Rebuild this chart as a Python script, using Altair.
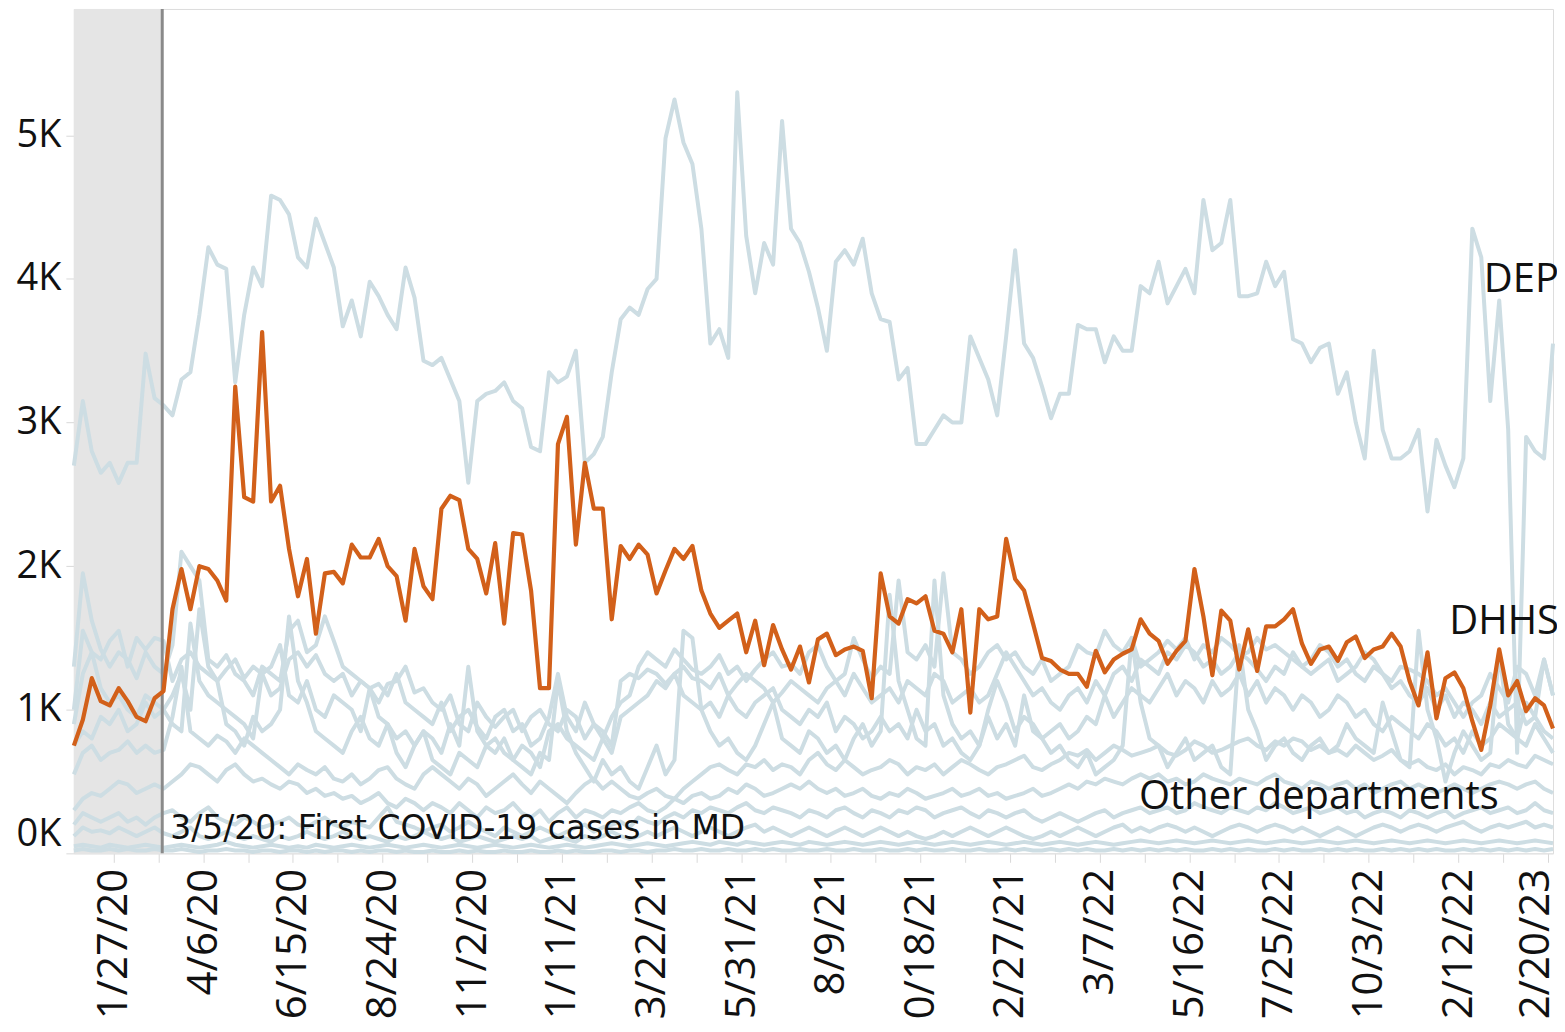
import altair as alt
import pandas as pd

# ---------------- data ----------------
START = "2019-12-27"
N_WEEKS = 166
COVID_DATE = "2020-03-05"

TICK_LABELS = ["1/27/20", "4/6/20", "6/15/20", "8/24/20", "11/2/20", "1/11/21",
               "3/22/21", "5/31/21", "8/9/21", "10/18/21", "12/27/21", "3/7/22",
               "5/16/22", "7/25/22", "10/3/22", "12/12/22", "2/20/23"]
TICK_START = "2020-01-27"
N_TICKS = 33  # every 5 weeks, labels on every other one

Y_TICKS = [0, 1, 2, 3, 4, 5]
Y_MAX = 5.88

# values in thousands (K)
DEP = [
    2.70, 3.15, 2.80, 2.65, 2.72, 2.58, 2.72, 2.72, 3.48, 3.17,
    3.12, 3.05, 3.30, 3.35, 3.75, 4.22, 4.10, 4.07, 3.28, 3.75,
    4.08, 3.95, 4.58, 4.55, 4.45, 4.15, 4.08, 4.42, 4.25, 4.08,
    3.67, 3.85, 3.60, 3.98, 3.88, 3.75, 3.65, 4.08, 3.87, 3.43,
    3.40, 3.45, 3.30, 3.15, 2.58, 3.15, 3.20, 3.22, 3.28, 3.15,
    3.10, 2.83, 2.80, 3.35, 3.28, 3.32, 3.50, 2.72, 2.78, 2.90,
    3.35, 3.72, 3.80, 3.75, 3.93, 4.00, 4.98, 5.25, 4.95, 4.80,
    4.35, 3.55, 3.65, 3.45, 5.30, 4.30, 3.90, 4.25, 4.10, 5.10,
    4.35, 4.25, 4.05, 3.80, 3.50, 4.12, 4.20, 4.10, 4.28, 3.90,
    3.72, 3.70, 3.30, 3.38, 2.85, 2.85, 2.95, 3.05, 3.00, 3.00,
    3.60, 3.45, 3.30, 3.05, 3.60, 4.20, 3.55, 3.45, 3.25, 3.03,
    3.20, 3.20, 3.68, 3.65, 3.65, 3.42, 3.60, 3.50, 3.50, 3.95,
    3.90, 4.12, 3.83, 3.95, 4.07, 3.90, 4.55, 4.20, 4.25, 4.55,
    3.88, 3.88, 3.90, 4.12, 3.95, 4.05, 3.58, 3.55, 3.42, 3.52,
    3.55, 3.20, 3.35, 3.00, 2.75, 3.50, 2.95, 2.75, 2.75, 2.80,
    2.95, 2.38, 2.88, 2.70, 2.55, 2.75, 4.35, 4.15, 3.15, 3.85,
    2.95, 0.70, 2.90, 2.80, 2.75, 3.55,
]

DHHS = [
    0.75, 0.93, 1.22, 1.06, 1.03, 1.15, 1.06, 0.95, 0.92, 1.08,
    1.13, 1.70, 1.98, 1.70, 2.00, 1.98, 1.90, 1.76, 3.25, 2.48,
    2.45, 3.63, 2.45, 2.56, 2.12, 1.79, 2.05, 1.53, 1.95, 1.96,
    1.88, 2.15, 2.06, 2.06, 2.19, 2.00, 1.93, 1.62, 2.12, 1.86,
    1.77, 2.40, 2.49, 2.46, 2.12, 2.05, 1.81, 2.16, 1.60, 2.23,
    2.22, 1.83, 1.15, 1.15, 2.85, 3.04, 2.15, 2.72, 2.40, 2.40,
    1.63, 2.14, 2.05, 2.15, 2.08, 1.81, 1.97, 2.12, 2.05, 2.14,
    1.83, 1.67, 1.57, 1.62, 1.67, 1.40, 1.62, 1.31, 1.59, 1.42,
    1.28, 1.44, 1.19, 1.49, 1.53, 1.38, 1.42, 1.44, 1.41, 1.08,
    1.95, 1.65, 1.60, 1.77, 1.74, 1.79, 1.55, 1.53, 1.40, 1.70,
    0.98, 1.70, 1.63, 1.65, 2.19, 1.91, 1.83, 1.60, 1.36, 1.34,
    1.28, 1.25, 1.25, 1.16, 1.41, 1.26, 1.35, 1.39, 1.42, 1.63,
    1.53, 1.48, 1.32, 1.41, 1.48, 1.98, 1.65, 1.24, 1.69, 1.62,
    1.28, 1.56, 1.27, 1.58, 1.58, 1.63, 1.70, 1.46, 1.32, 1.42,
    1.44, 1.34, 1.47, 1.51, 1.36, 1.42, 1.44, 1.53, 1.44, 1.20,
    1.03, 1.40, 0.94, 1.22, 1.26, 1.15, 0.92, 0.72, 1.03, 1.42,
    1.10, 1.20, 0.99, 1.08, 1.03, 0.87,
]

OTHER_1 = [
    1.30, 1.95, 1.62, 1.42, 1.30, 1.40, 1.35, 1.22, 1.40, 1.30,
    1.25, 1.45, 2.10, 2.00, 1.90, 1.35, 1.30, 1.38, 1.25, 1.20,
    1.10, 1.30, 1.25, 1.20, 1.55, 1.62, 1.40, 1.45, 1.65, 1.48,
    1.30, 1.25, 1.20, 1.15, 1.18, 1.10, 1.25, 1.05, 1.00, 0.95,
    0.90, 1.05, 0.85, 0.95, 1.00, 0.88, 0.80, 0.95, 1.00, 0.85,
    0.90, 0.75, 0.80, 0.95, 1.25, 0.95, 0.85, 1.05, 0.90, 0.80,
    0.95, 1.05, 1.10, 1.30, 1.40, 1.35, 1.30, 1.42, 1.35, 1.28,
    1.25, 1.30, 1.38, 1.25, 1.30, 1.20, 1.28, 1.35, 1.40, 1.30,
    1.32, 1.25, 1.40, 1.45, 1.30, 1.20, 1.25, 1.50, 1.35, 1.22,
    1.30, 1.25, 1.90, 1.40, 1.35, 1.45, 1.30, 1.95, 1.40, 1.35,
    1.25, 1.30, 1.40, 1.45, 1.35, 1.40, 1.30, 1.25, 1.35, 1.20,
    1.25, 1.30, 1.45, 1.40, 1.38, 1.55, 1.45, 1.40, 1.50, 1.30,
    1.35, 1.40, 1.48, 1.42, 1.50, 1.35, 1.45, 1.40, 1.50, 1.45,
    1.38, 1.40, 1.50, 1.42, 1.45, 1.40, 1.35, 1.30, 1.25, 1.30,
    1.35, 1.20, 1.25, 1.30, 1.40, 1.35, 1.25, 1.20, 1.30, 1.28,
    1.25, 1.20, 1.10, 1.15, 1.05, 0.95, 1.05, 1.10, 1.25, 1.15,
    1.05, 1.30, 1.25, 1.10, 1.35, 1.10,
]

OTHER_2 = [
    1.00, 1.55, 1.40, 1.35, 1.48, 1.55, 1.30, 1.50, 1.42, 1.50,
    1.48, 1.20, 1.35, 1.40, 1.30, 1.25, 1.20, 1.28, 1.35, 1.22,
    1.30, 1.25, 1.10, 1.15, 1.35, 1.40, 1.30, 1.38, 1.25, 1.20,
    1.25, 1.10, 1.20, 1.15, 1.05, 1.18, 1.20, 1.30, 1.12, 1.15,
    1.05, 1.00, 1.10, 0.90, 0.85, 1.05, 0.95, 0.88, 0.95, 1.00,
    0.85, 0.95, 1.00, 0.90, 0.85, 1.00, 0.95, 0.80, 0.90, 0.85,
    0.75, 1.20, 1.25, 1.22, 1.28, 1.25, 1.18, 1.25, 1.30, 1.22,
    1.20, 1.15, 1.25, 1.10, 1.18, 1.25, 1.20, 1.15, 1.05, 1.12,
    1.20, 1.15, 1.10, 1.05, 1.15, 1.20, 1.10, 1.25, 1.15, 1.05,
    1.10, 1.15, 1.05, 1.20, 1.15, 1.10, 1.25, 1.20, 1.05, 1.10,
    1.15, 1.05, 1.10, 1.25, 1.40, 1.30, 1.20, 1.10, 1.15, 1.05,
    1.00, 1.10, 1.15, 1.05, 1.20, 1.10, 1.25, 1.30, 1.20, 1.35,
    1.30, 1.25, 1.40, 1.35, 1.45, 1.40, 1.30, 1.35, 1.25, 1.30,
    1.40, 1.35, 1.28, 1.20, 1.30, 1.25, 1.40, 1.30, 1.35, 1.45,
    1.40, 1.30, 1.35, 1.25, 1.20, 1.30, 1.25, 1.15, 1.20, 1.10,
    1.05, 1.15, 1.00, 1.10, 0.95, 1.05, 1.00, 0.90, 1.05, 0.95,
    1.00, 1.05, 0.90, 0.95, 0.85, 0.80,
]

OTHER_3 = [
    0.90, 1.25, 1.40, 1.15, 1.05, 1.10, 1.00, 0.95, 1.10, 1.05,
    1.00, 0.90, 0.85, 1.60, 1.20, 1.10, 1.05, 1.00, 0.95, 0.90,
    0.80, 1.25, 1.30, 1.45, 1.10, 1.05, 1.20, 1.00, 0.95, 1.10,
    1.05, 1.00, 0.85, 1.15, 0.95, 0.90, 0.80, 0.85, 0.75, 0.85,
    0.80, 0.70, 0.90, 0.75, 1.30, 0.85, 0.75, 0.70, 0.80, 0.65,
    0.75, 0.70, 0.60, 0.85, 0.90, 0.80, 0.75, 0.70, 0.65, 0.80,
    0.70, 0.95, 1.00, 1.05, 1.10, 1.20, 1.15, 1.25, 1.10, 1.05,
    1.00, 1.05, 0.95, 1.10, 1.00, 0.95, 1.05, 1.10, 1.15, 1.00,
    0.95, 0.90, 1.00, 0.95, 1.05, 0.85, 0.95, 0.90, 0.80, 0.85,
    0.95, 0.85, 0.90, 0.80, 1.00, 0.85, 0.90, 0.75, 0.80, 0.70,
    0.65, 0.75, 1.00, 1.20, 1.05, 0.85, 0.95, 0.90, 0.80, 0.85,
    0.90, 0.80, 0.85, 0.95, 0.90, 1.10, 0.95, 1.05, 1.15, 1.10,
    1.05, 1.15, 1.25, 1.10, 1.20, 1.15, 1.05, 1.20, 1.10, 1.15,
    1.25, 1.10, 1.20, 1.05, 1.15, 1.10, 1.00, 1.10, 1.05, 0.95,
    1.00, 1.10, 1.05, 0.95, 1.00, 0.90, 0.85, 0.95, 0.90, 0.85,
    0.80, 0.90, 0.85, 0.75, 0.80, 0.70, 0.85, 0.75, 0.80, 0.90,
    0.85, 0.80, 0.75, 0.90, 0.80, 0.70,
]

OTHER_4 = [
    0.75, 0.85, 0.80, 0.95, 0.90, 1.00, 0.85, 0.90, 1.05, 0.95,
    1.00, 1.10, 1.25, 1.00, 1.70, 1.30, 1.20, 0.90, 0.85, 0.75,
    0.95, 0.85, 0.90, 1.00, 1.65, 1.20, 1.05, 0.85, 0.80, 0.75,
    0.70, 0.85, 0.95, 0.80, 0.75, 0.90, 0.70, 0.60, 0.75, 0.85,
    0.65, 0.60, 0.55, 0.70, 0.65, 0.60, 0.75, 0.80, 0.70, 0.65,
    0.60, 0.55, 0.70, 0.65, 1.20, 0.85, 0.70, 0.60, 0.50, 0.65,
    0.55, 0.60, 0.50, 0.45, 0.60, 0.75, 0.55, 0.65, 1.55, 1.50,
    1.00, 0.85, 0.75, 0.80, 0.70, 0.65, 0.75, 0.90, 1.05, 0.80,
    0.75, 0.70, 0.85, 0.80, 0.70, 0.75, 0.65, 0.80, 0.90, 0.75,
    0.85, 1.80, 1.20, 1.00, 0.80, 0.75, 1.90, 1.10, 0.90, 0.80,
    0.85, 0.75, 0.95, 0.80, 0.90, 0.75, 1.10, 0.85, 0.80, 0.70,
    0.75, 0.65, 0.60, 0.70, 0.55, 0.60, 0.65, 0.75, 1.50, 1.05,
    0.80, 0.75, 0.60, 0.70, 0.80, 0.65, 0.70, 0.75, 0.60, 0.55,
    1.45, 1.00, 0.85, 0.65, 0.75, 0.80, 0.70, 0.65, 0.75, 0.80,
    0.70, 0.75, 0.90, 0.80, 0.75, 0.70, 1.05, 0.85, 0.65, 0.60,
    1.55, 1.00, 0.80, 0.50, 0.70, 0.85, 0.75, 0.65, 0.70, 1.40,
    0.90, 0.80, 1.05, 0.95, 1.35, 1.10,
]

OTHER_5 = [
    0.55, 0.70, 0.75, 0.65, 0.70, 0.72, 0.78, 0.70, 0.75, 0.70,
    0.72, 0.95, 1.30, 0.85, 0.80, 0.75, 0.82, 0.78, 0.70, 0.80,
    0.75, 0.70, 0.65, 0.60, 0.55, 0.62, 0.58, 0.55, 0.60, 0.52,
    0.50, 0.55, 0.48, 0.52, 0.58, 0.60, 0.52, 0.48, 0.45, 0.55,
    0.60, 0.55, 0.50, 0.45, 0.52, 0.48, 0.40, 0.45, 0.50, 0.55,
    0.48, 0.42, 0.50, 0.45, 0.40, 0.35, 0.42, 0.48, 0.52, 0.45,
    0.50, 0.45, 0.40, 0.38, 0.42, 0.45, 0.40, 0.38, 0.45, 0.50,
    0.55, 0.60, 0.62, 0.58, 0.55, 0.62, 0.60, 0.65, 0.58, 0.62,
    0.60, 0.55, 0.65, 0.70, 0.62, 0.58, 0.65, 0.60, 0.55, 0.58,
    0.60, 0.65, 0.62, 0.55, 0.60, 0.58, 0.62, 0.55, 0.60, 0.65,
    0.62, 0.58, 0.55, 0.60, 0.62, 0.65, 0.68, 0.60, 0.58, 0.62,
    0.65, 0.70, 0.68, 0.72, 0.65, 0.70, 0.75, 0.72, 0.68, 0.70,
    0.72, 0.75, 0.70, 0.68, 0.72, 0.78, 0.75, 0.70, 0.72, 0.75,
    0.78, 0.80, 0.75, 0.72, 0.78, 0.75, 0.80, 0.78, 0.72, 0.75,
    0.70, 0.72, 0.68, 0.75, 0.70, 0.65, 0.68, 0.72, 0.65, 0.62,
    0.65, 0.60, 0.58, 0.62, 0.55, 0.60, 0.58, 0.55, 0.62, 0.60,
    0.65, 0.62, 0.60, 0.68, 0.65, 0.62,
]

OTHER_6 = [
    0.30, 0.38, 0.42, 0.40, 0.45, 0.50, 0.48, 0.42, 0.45, 0.48,
    0.45, 0.50, 0.55, 0.62, 0.60, 0.55, 0.50, 0.58, 0.62, 0.55,
    0.50, 0.52, 0.48, 0.45, 0.50, 0.48, 0.42, 0.45, 0.40, 0.42,
    0.38, 0.40, 0.35, 0.38, 0.42, 0.35, 0.32, 0.38, 0.35, 0.30,
    0.35, 0.32, 0.28, 0.35, 0.30, 0.25, 0.32, 0.28, 0.30, 0.35,
    0.28, 0.25, 0.30, 0.22, 0.28, 0.32, 0.25, 0.30, 0.28, 0.25,
    0.30, 0.28, 0.32, 0.35, 0.30, 0.28, 0.32, 0.38, 0.35, 0.40,
    0.42, 0.38, 0.40, 0.45, 0.42, 0.48, 0.45, 0.40, 0.42, 0.45,
    0.48, 0.45, 0.50, 0.45, 0.42, 0.45, 0.40, 0.42, 0.45, 0.40,
    0.38, 0.42, 0.40, 0.45, 0.42, 0.38, 0.40, 0.42, 0.45, 0.40,
    0.42, 0.45, 0.40, 0.42, 0.38, 0.40, 0.42, 0.45, 0.40, 0.42,
    0.45, 0.48, 0.45, 0.50, 0.48, 0.52, 0.50, 0.48, 0.52, 0.55,
    0.52, 0.55, 0.50, 0.52, 0.48, 0.50, 0.55, 0.52, 0.50, 0.48,
    0.52, 0.50, 0.48, 0.52, 0.55, 0.50, 0.48, 0.45, 0.50, 0.48,
    0.45, 0.48, 0.50, 0.45, 0.48, 0.42, 0.45, 0.48, 0.50, 0.45,
    0.48, 0.45, 0.42, 0.45, 0.48, 0.45, 0.42, 0.45, 0.48, 0.50,
    0.48, 0.45, 0.48, 0.50, 0.45, 0.42,
]

OTHER_7 = [
    0.20, 0.28, 0.25, 0.22, 0.25, 0.28, 0.22, 0.25, 0.20, 0.25,
    0.28, 0.30, 0.25, 0.22, 0.28, 0.32, 0.25, 0.22, 0.20, 0.25,
    0.22, 0.18, 0.20, 0.22, 0.25, 0.20, 0.18, 0.22, 0.25, 0.20,
    0.18, 0.22, 0.20, 0.18, 0.25, 0.32, 0.22, 0.20, 0.18, 0.15,
    0.18, 0.20, 0.15, 0.18, 0.22, 0.18, 0.15, 0.12, 0.18, 0.15,
    0.12, 0.15, 0.18, 0.15, 0.12, 0.15, 0.18, 0.20, 0.15, 0.18,
    0.20, 0.22, 0.18, 0.25, 0.22, 0.20, 0.25, 0.28, 0.25, 0.30,
    0.28, 0.32, 0.30, 0.28, 0.32, 0.35, 0.30, 0.28, 0.32, 0.30,
    0.28, 0.25, 0.30, 0.28, 0.25, 0.30, 0.32, 0.28, 0.25, 0.30,
    0.28, 0.25, 0.30, 0.28, 0.32, 0.30, 0.25, 0.28, 0.30, 0.32,
    0.28, 0.25, 0.30, 0.28, 0.25, 0.28, 0.30, 0.25, 0.22, 0.25,
    0.28, 0.25, 0.22, 0.25, 0.28, 0.30, 0.25, 0.28, 0.30, 0.32,
    0.28, 0.30, 0.32, 0.28, 0.30, 0.35, 0.32, 0.30, 0.28, 0.32,
    0.30, 0.28, 0.32, 0.30, 0.35, 0.32, 0.28, 0.30, 0.32, 0.28,
    0.30, 0.32, 0.28, 0.30, 0.25, 0.28, 0.30, 0.28, 0.25, 0.30,
    0.28, 0.25, 0.28, 0.30, 0.25, 0.28, 0.30, 0.32, 0.28, 0.30,
    0.32, 0.28, 0.30, 0.35, 0.30, 0.28,
]

OTHER_8 = [
    0.12, 0.18, 0.15, 0.16, 0.14, 0.18, 0.15, 0.12, 0.15, 0.18,
    0.14, 0.12, 0.15, 0.18, 0.12, 0.10, 0.12, 0.15, 0.12, 0.10,
    0.12, 0.10, 0.08, 0.12, 0.10, 0.12, 0.15, 0.12, 0.10, 0.12,
    0.15, 0.12, 0.10, 0.12, 0.10, 0.08, 0.12, 0.10, 0.12, 0.15,
    0.12, 0.10, 0.12, 0.08, 0.10, 0.12, 0.10, 0.08, 0.10, 0.12,
    0.10, 0.12, 0.08, 0.10, 0.12, 0.10, 0.08, 0.12, 0.10, 0.12,
    0.15, 0.12, 0.10, 0.12, 0.15, 0.12, 0.15, 0.18, 0.15, 0.12,
    0.15, 0.18, 0.15, 0.12, 0.15, 0.18, 0.20, 0.15, 0.18, 0.15,
    0.12, 0.15, 0.18, 0.15, 0.12, 0.15, 0.18, 0.15, 0.12, 0.15,
    0.18, 0.15, 0.12, 0.15, 0.12, 0.10, 0.12, 0.15, 0.12, 0.15,
    0.18, 0.15, 0.12, 0.15, 0.18, 0.15, 0.12, 0.10, 0.12, 0.15,
    0.12, 0.15, 0.18, 0.15, 0.12, 0.15, 0.18, 0.20, 0.15, 0.18,
    0.15, 0.18, 0.20, 0.18, 0.15, 0.18, 0.15, 0.12, 0.15, 0.18,
    0.20, 0.18, 0.15, 0.18, 0.20, 0.18, 0.15, 0.18, 0.15, 0.12,
    0.15, 0.18, 0.15, 0.12, 0.15, 0.18, 0.20, 0.18, 0.15, 0.18,
    0.20, 0.18, 0.15, 0.18, 0.20, 0.22, 0.18, 0.15, 0.18, 0.20,
    0.18, 0.20, 0.22, 0.18, 0.20, 0.18,
]

OTHER_9 = [
    0.05, 0.06, 0.05, 0.04, 0.06, 0.05, 0.04, 0.05, 0.06, 0.05,
    0.04, 0.05, 0.06, 0.05, 0.04, 0.05, 0.06, 0.08, 0.06, 0.05,
    0.04, 0.05, 0.06, 0.05, 0.04, 0.05, 0.04, 0.06, 0.05, 0.04,
    0.05, 0.06, 0.05, 0.04, 0.05, 0.06, 0.05, 0.04, 0.05, 0.06,
    0.05, 0.04, 0.05, 0.06, 0.05, 0.04, 0.05, 0.06, 0.05, 0.04,
    0.05, 0.06, 0.05, 0.04, 0.05, 0.06, 0.05, 0.04, 0.05, 0.06,
    0.07, 0.06, 0.05, 0.06, 0.07, 0.06, 0.05, 0.06, 0.07, 0.08,
    0.07, 0.06, 0.08, 0.07, 0.06, 0.08, 0.07, 0.06, 0.07, 0.08,
    0.07, 0.06, 0.08, 0.07, 0.06, 0.07, 0.08, 0.07, 0.06, 0.07,
    0.08, 0.07, 0.06, 0.07, 0.08, 0.07, 0.06, 0.07, 0.08, 0.07,
    0.06, 0.07, 0.08, 0.07, 0.06, 0.07, 0.08, 0.07, 0.06, 0.07,
    0.08, 0.07, 0.06, 0.07, 0.08, 0.07, 0.06, 0.07, 0.08, 0.09,
    0.08, 0.07, 0.08, 0.09, 0.08, 0.07, 0.08, 0.09, 0.08, 0.07,
    0.08, 0.09, 0.08, 0.07, 0.08, 0.09, 0.08, 0.07, 0.08, 0.09,
    0.08, 0.07, 0.08, 0.09, 0.08, 0.07, 0.08, 0.09, 0.08, 0.07,
    0.08, 0.09, 0.08, 0.07, 0.08, 0.09, 0.08, 0.07, 0.08, 0.09,
    0.08, 0.07, 0.08, 0.09, 0.08, 0.07,
]

OTHER_10 = [
    0.02, 0.03, 0.02, 0.02, 0.03, 0.02, 0.03, 0.02, 0.02, 0.03,
    0.02, 0.02, 0.03, 0.02, 0.01, 0.02, 0.02, 0.03, 0.02, 0.02,
    0.01, 0.02, 0.02, 0.01, 0.02, 0.02, 0.01, 0.02, 0.01, 0.02,
    0.02, 0.01, 0.02, 0.01, 0.02, 0.02, 0.01, 0.02, 0.01, 0.01,
    0.02, 0.01, 0.01, 0.02, 0.01, 0.02, 0.01, 0.01, 0.02, 0.01,
    0.01, 0.02, 0.01, 0.01, 0.02, 0.01, 0.02, 0.01, 0.01, 0.02,
    0.02, 0.01, 0.02, 0.02, 0.01, 0.02, 0.02, 0.03, 0.02, 0.02,
    0.03, 0.02, 0.02, 0.03, 0.02, 0.02, 0.03, 0.02, 0.03, 0.02,
    0.02, 0.03, 0.02, 0.02, 0.03, 0.02, 0.02, 0.03, 0.02, 0.02,
    0.03, 0.02, 0.02, 0.03, 0.02, 0.03, 0.02, 0.02, 0.03, 0.02,
    0.02, 0.03, 0.02, 0.02, 0.03, 0.02, 0.03, 0.02, 0.02, 0.03,
    0.02, 0.03, 0.02, 0.03, 0.02, 0.02, 0.03, 0.02, 0.03, 0.02,
    0.03, 0.02, 0.03, 0.02, 0.03, 0.02, 0.02, 0.03, 0.02, 0.03,
    0.02, 0.03, 0.02, 0.02, 0.03, 0.02, 0.03, 0.02, 0.02, 0.03,
    0.02, 0.03, 0.02, 0.03, 0.02, 0.02, 0.03, 0.02, 0.03, 0.02,
    0.03, 0.02, 0.03, 0.02, 0.02, 0.03, 0.02, 0.03, 0.02, 0.03,
    0.02, 0.03, 0.02, 0.03, 0.02, 0.03,
]

GRAY_SERIES = {
    "DEP": DEP,
    "Other 1": OTHER_1, "Other 2": OTHER_2, "Other 3": OTHER_3,
    "Other 4": OTHER_4, "Other 5": OTHER_5, "Other 6": OTHER_6,
    "Other 7": OTHER_7, "Other 8": OTHER_8, "Other 9": OTHER_9,
    "Other 10": OTHER_10,
}

# ---------------- build tables ----------------
def ms(ts):
    return int(pd.Timestamp(ts).value // 10**6)

week_ms = [ms(d) for d in pd.date_range(START, periods=N_WEEKS, freq="7D")]
tick_ms = [ms(d) for d in pd.date_range(TICK_START, periods=N_TICKS, freq="35D")]
covid_ms = ms(COVID_DATE)

gray_rows = []
for name, vals in GRAY_SERIES.items():
    for t, v in zip(week_ms, vals):
        gray_rows.append({"t": t, "v": v, "dept": name})
gray_df = pd.DataFrame(gray_rows)
dhhs_df = pd.DataFrame({"t": week_ms[:len(DHHS)], "v": DHHS, "dept": "DHHS"})

shade_df = pd.DataFrame([{"t": week_ms[0], "t2": covid_ms}])
rule_df = pd.DataFrame([{"t": covid_ms}])
note_df = pd.DataFrame([{"t": covid_ms, "v": 0.17,
                         "label": "3/5/20: First COVID-19 cases in MD"}])
label_df = pd.DataFrame([
    {"t": week_ms[-1], "v": 3.99, "label": "DEP"},
    {"t": week_ms[-1], "v": 1.61, "label": "DHHS"},
    {"t": ms("2023-01-08"), "v": 0.39, "label": "Other departments"},
])

# ---------------- chart ----------------
label_list = "[" + ",".join("'" + s + "'" for s in TICK_LABELS) + "]"
last_label = TICK_LABELS[-1]

x_scale = alt.Scale(type="utc", domain=[week_ms[0], week_ms[-1]], nice=False)
y_scale = alt.Scale(domain=[0, Y_MAX], nice=False, zero=True)

x_axis = alt.Axis(
    values=tick_ms, format="%-m/%-d/%y", formatType="time",
    labelExpr="indexof(" + label_list + ", datum.label) >= 0 ? datum.label : ''",
    labelAngle=270, labelFont="Open Sans", labelFontSize=42, labelColor="#111111",
    labelPadding=6, labelOverlap=False, labelBound=False, labelFlush=False,
    labelOffset={"condition": {"test": "datum.label == '" + last_label + "'",
                               "value": -12}, "value": 0},
    tickSize=9, tickColor="#d9d9d9", tickWidth=1,
    domainColor="#e3e3e3", domainWidth=1, grid=False, title=None,
)
y_axis = alt.Axis(
    values=Y_TICKS, labelExpr="datum.value + 'K'",
    labelFont="Open Sans", labelFontSize=38, labelColor="#111111",
    labelPadding=5, labelFlush=True, labelFlushOffset=0,
    tickSize=8, tickColor="#d9d9d9", tickWidth=1,
    domain=False, grid=False, title=None,
)

X = alt.X("t:T", scale=x_scale, axis=x_axis)
Y = alt.Y("v:Q", scale=y_scale, axis=y_axis)

shade = alt.Chart(shade_df).mark_rect(color="#e5e5e5").encode(
    x=alt.X("t:T", scale=x_scale, axis=x_axis), x2="t2:T",
    y=alt.datum(0), y2=alt.datum(Y_MAX),
)

gray_lines = alt.Chart(gray_df).mark_line(
    color="#cddde3", strokeWidth=4, strokeJoin="round"
).encode(x=X, y=Y, detail="dept:N", order="t:T")

rule = alt.Chart(rule_df).mark_rule(color="#8a8a8a", strokeWidth=3).encode(
    x=alt.X("t:T", scale=x_scale, axis=x_axis)
)

dhhs_line = alt.Chart(dhhs_df).mark_line(
    color="#d2601a", strokeWidth=4.2, strokeJoin="round"
).encode(x=X, y=Y, order="t:T")

note = alt.Chart(note_df).mark_text(
    align="left", baseline="middle", dx=8, font="DejaVu Sans",
    fontSize=33, color="#111111"
).encode(x=X, y=Y, text="label:N")

labels = alt.Chart(label_df).mark_text(
    align="right", baseline="middle", dx=6, font="Open Sans",
    fontSize=40, color="#111111"
).encode(x=X, y=Y, text="label:N")

chart = alt.layer(shade, gray_lines, rule, dhhs_line, note, labels).properties(
    width=1482, height=846,
    autosize=alt.AutoSizeParams(type="none"),
    padding={"left": 66, "top": 0, "right": 4, "bottom": 164},
).configure_view(stroke=None).configure(background="white")

chart.save("out.html", embed_options={"renderer": "svg", "actions": False})
